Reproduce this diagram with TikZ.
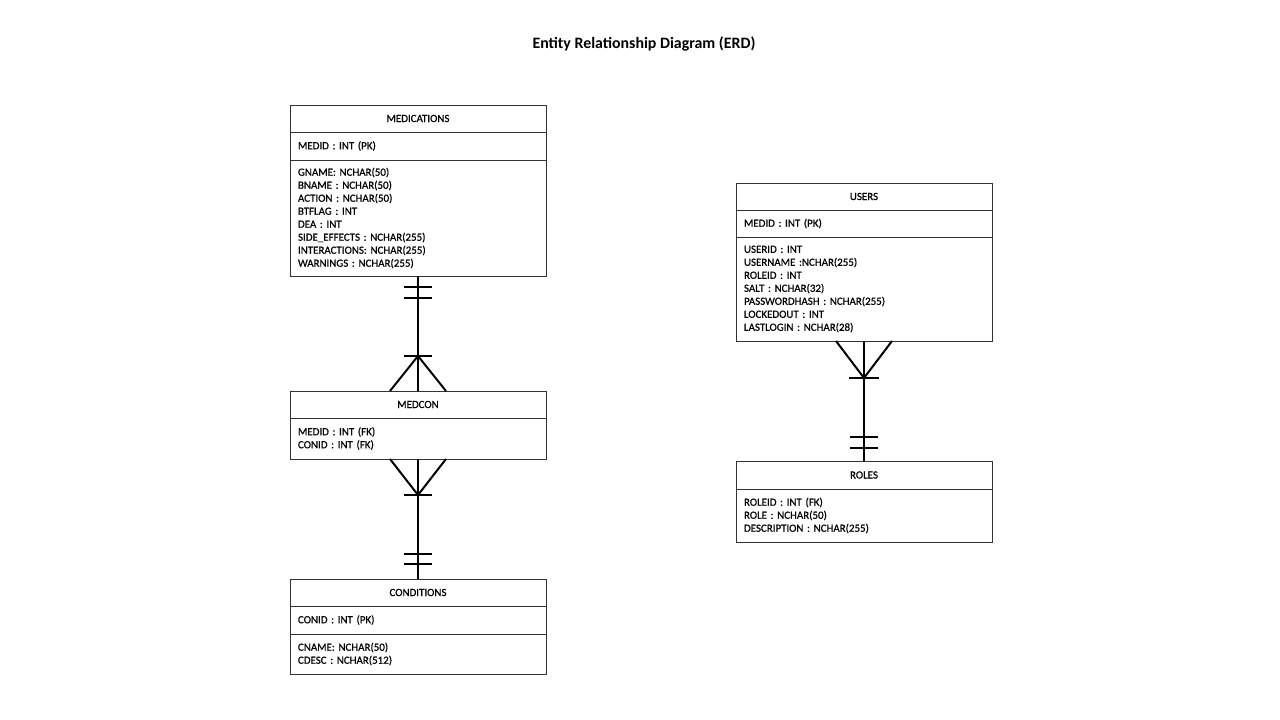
\documentclass[tikz,border=0pt]{standalone}
\usepackage{fontspec}
\setmainfont{Carlito}
\newfontfamily\entfam[FakeBold=0.6]{Carlito}
\usetikzlibrary{positioning,calc}
\newcommand{\entfont}{\entfam\fontsize{8.2pt}{9.75pt}\selectfont}
\newcommand{\ttlfont}{\fontsize{11.9pt}{14pt}\selectfont\bfseries}
\tikzset{
  ent/.style={draw=black!80, line width=0.6pt, minimum width=192pt, inner sep=0pt, outer sep=0pt, font=\entfont, anchor=north},
  hdr/.style={ent, align=center},
  fld/.style={ent, text width=180pt, align=left, inner xsep=6pt},
  rel/.style={line width=1.5pt, black},
}
\begin{document}
\begin{tikzpicture}[x=0.75pt,y=-0.75pt]
\useasboundingbox (0,0) rectangle (1280,720);
\node[font=\ttlfont] (title) at (644,44) {Entity Relationship Diagram (ERD)};

% MEDICATIONS
\node[hdr, minimum height=27*0.75pt] (medH) at (418,105) {MEDICATIONS};
\node[fld, minimum height=28*0.75pt] (medK) at (medH.south) {MEDID : INT (PK)};
\node[fld, minimum height=116*0.75pt] (medA) at (medK.south) {GNAME: NCHAR(50)\\BNAME : NCHAR(50)\\ACTION : NCHAR(50)\\BTFLAG : INT\\DEA : INT\\SIDE\_EFFECTS : NCHAR(255)\\INTERACTIONS: NCHAR(255)\\WARNINGS : NCHAR(255)};

% MEDCON
\node[hdr, minimum height=27*0.75pt] (mcH) at (418,391) {MEDCON};
\node[fld, minimum height=41*0.75pt] (mcA) at (mcH.south) {MEDID : INT (FK)\\CONID : INT (FK)};

% CONDITIONS
\node[hdr, minimum height=27*0.75pt] (cdH) at (418,579) {CONDITIONS};
\node[fld, minimum height=28*0.75pt] (cdK) at (cdH.south) {CONID : INT (PK)};
\node[fld, minimum height=40*0.75pt] (cdA) at (cdK.south) {CNAME: NCHAR(50)\\CDESC : NCHAR(512)};

% USERS
\node[hdr, minimum height=27*0.75pt] (usH) at (864,183) {USERS};
\node[fld, minimum height=27*0.75pt] (usK) at (usH.south) {MEDID : INT (PK)};
\node[fld, minimum height=104*0.75pt] (usA) at (usK.south) {USERID : INT\\USERNAME :NCHAR(255)\\ROLEID : INT\\SALT : NCHAR(32)\\PASSWORDHASH : NCHAR(255)\\LOCKEDOUT : INT\\LASTLOGIN : NCHAR(28)};

% ROLES
\node[hdr, minimum height=28*0.75pt] (roH) at (864,461) {ROLES};
\node[fld, minimum height=53*0.75pt] (roA) at (roH.south) {ROLEID : INT (FK)\\ROLE : NCHAR(50)\\DESCRIPTION : NCHAR(255)};

% MEDICATIONS -- MEDCON (one to many)
\draw[rel] (medA.south) -- (mcH.north);
\draw[rel] ($(medA.south)+(-14,11)$) -- ++(28,0);
\draw[rel] ($(medA.south)+(-14,22)$) -- ++(28,0);
\draw[rel] ($(mcH.north)+(-14,-35)$) -- ++(28,0);
\draw[rel] ($(mcH.north)+(-28,0)$) -- ($(mcH.north)+(0,-35)$) -- ($(mcH.north)+(28,0)$);

% MEDCON -- CONDITIONS (many to one)
\draw[rel] (mcA.south) -- (cdH.north);
\draw[rel] ($(mcA.south)+(-28,0)$) -- ($(mcA.south)+(0,36)$) -- ($(mcA.south)+(28,0)$);
\draw[rel] ($(mcA.south)+(-14,36)$) -- ++(28,0);
\draw[rel] ($(cdH.north)+(-14,-25)$) -- ++(28,0);
\draw[rel] ($(cdH.north)+(-14,-15)$) -- ++(28,0);

% USERS -- ROLES (many to one)
\draw[rel] (usA.south) -- (roH.north);
\draw[rel] ($(usA.south)+(-28,0)$) -- ($(usA.south)+(0,37)$) -- ($(usA.south)+(28,0)$);
\draw[rel] ($(usA.south)+(-15,37)$) -- ++(30,0);
\draw[rel] ($(roH.north)+(-14,-24)$) -- ++(28,0);
\draw[rel] ($(roH.north)+(-14,-13)$) -- ++(28,0);
\end{tikzpicture}
\end{document}
